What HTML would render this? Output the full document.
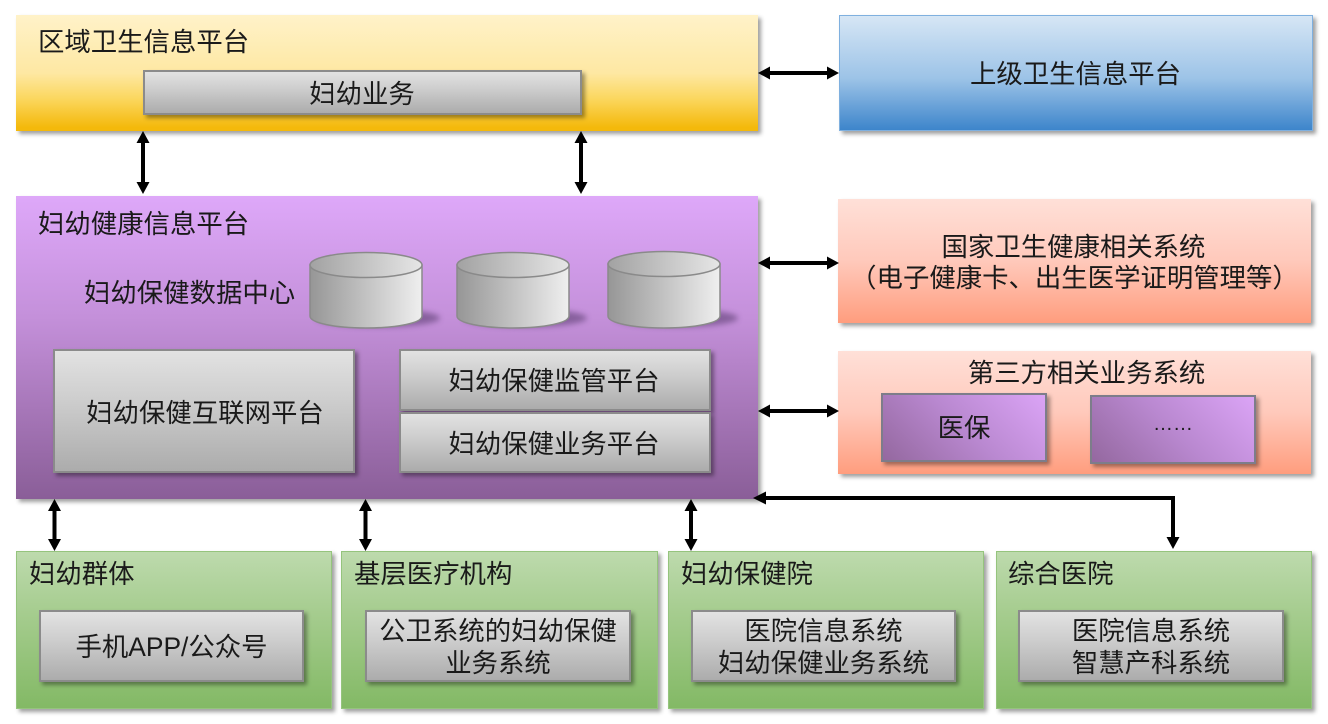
<!DOCTYPE html>
<html lang="zh">
<head>
<meta charset="utf-8">
<style>
html,body{margin:0;padding:0;background:#fff;}
#c{position:relative;width:1328px;height:724px;overflow:hidden;background:#fff;font-family:"Liberation Sans","Noto Sans CJK SC",sans-serif;color:#1a1a1a;}
.b{position:absolute;box-sizing:border-box;box-shadow:3px 3px 4px rgba(0,0,0,.38);}
.t{position:absolute;font-size:26.4px;line-height:32px;white-space:nowrap;}
.cc{text-align:center;}
.y{background:linear-gradient(#fff2c9 0%,#fee8a3 50%,#fbd75f 72%,#f4b90b 97%);}
.bl{background:linear-gradient(#d6e6f5 0%,#9cc3e7 55%,#3d85cb 100%);border:1px solid #7fb0df;}
.p{background:linear-gradient(#dea8f9 0%,#c490da 40%,#8a5e98 100%);}
.r{background:linear-gradient(#ffe0d8 0%,#ffc9bb 50%,#ff9d7e 100%);}
.g{background:linear-gradient(#bddaad 0%,#a5cc8e 40%,#83b965 100%);border:1px solid #95c47d;}
.s{background:linear-gradient(#e2e2e2 0%,#cecece 40%,#acacac 100%);border:2px solid #8b8b8b;}
.pi{background:linear-gradient(45deg,#94689f 0%,#b988d0 50%,#dba4f6 100%);border:2px solid #7d7d8a;}
svg{position:absolute;left:0;top:0;}
</style>
</head>
<body>
<div id="c">
<div class="b y" style="left:16px;top:15px;width:742px;height:116px;"></div>
<div class="b bl" style="left:839px;top:15px;width:474px;height:116px;"></div>
<div class="b p" style="left:16px;top:196px;width:742px;height:303px;"></div>
<div class="b r" style="left:838px;top:199px;width:473px;height:124px;"></div>
<div class="b r" style="left:838px;top:351px;width:473px;height:123px;"></div>
<div class="b g" style="left:16px;top:551px;width:316px;height:158px;"></div>
<div class="b g" style="left:341px;top:551px;width:317px;height:158px;"></div>
<div class="b g" style="left:668px;top:551px;width:316px;height:158px;"></div>
<div class="b g" style="left:996px;top:551px;width:316px;height:158px;"></div>

<div class="b s" style="left:143px;top:70px;width:439px;height:45px;"></div>
<div class="b s" style="left:53px;top:349px;width:302px;height:124px;"></div>
<div class="b s" style="left:399px;top:349px;width:312px;height:62px;"></div>
<div class="b s" style="left:399px;top:412px;width:312px;height:61px;"></div>
<div class="b s" style="left:39px;top:610px;width:265px;height:72px;"></div>
<div class="b s" style="left:365px;top:610px;width:266px;height:72px;"></div>
<div class="b s" style="left:691px;top:610px;width:265px;height:72px;"></div>
<div class="b s" style="left:1018px;top:610px;width:266px;height:72px;"></div>
<div class="b pi" style="left:881px;top:393px;width:166px;height:69px;"></div>
<div class="b pi" style="left:1090px;top:395px;width:166px;height:69px;"></div>

<svg width="1328" height="724" viewBox="0 0 1328 724">
<defs>
<linearGradient id="cg"><stop offset="0" stop-color="#969696"/><stop offset="1" stop-color="#efefef"/></linearGradient>
<linearGradient id="ct"><stop offset="0" stop-color="#a2a2a2"/><stop offset="1" stop-color="#e6e6e6"/></linearGradient>
<filter id="bl" x="-30%" y="-30%" width="160%" height="160%"><feGaussianBlur stdDeviation="3"/></filter>
</defs>
<ellipse cx="378" cy="318" rx="62" ry="9" fill="#5e4074" opacity=".6" filter="url(#bl)"/>
<path d="M310 265V316C310 323 335 328 366 328S422 323 422 316V265Z" fill="url(#cg)" stroke="#8a8a8a" stroke-width="1.5"/>
<ellipse cx="366" cy="265" rx="56" ry="12.500" fill="url(#ct)" stroke="#8a8a8a" stroke-width="1.5"/>
<ellipse cx="525" cy="318" rx="62" ry="9" fill="#5e4074" opacity=".6" filter="url(#bl)"/>
<path d="M457 265V316C457 323 482 328 513 328S569 323 569 316V265Z" fill="url(#cg)" stroke="#8a8a8a" stroke-width="1.5"/>
<ellipse cx="513" cy="265" rx="56" ry="12.500" fill="url(#ct)" stroke="#8a8a8a" stroke-width="1.5"/>
<ellipse cx="676" cy="318" rx="62" ry="9" fill="#5e4074" opacity=".6" filter="url(#bl)"/>
<path d="M608 264V316C608 323 633 328 664 328S720 323 720 316V264Z" fill="url(#cg)" stroke="#8a8a8a" stroke-width="1.5"/>
<ellipse cx="664" cy="264" rx="56" ry="12.500" fill="url(#ct)" stroke="#8a8a8a" stroke-width="1.5"/>

<g fill="#000" stroke="#000">
<g stroke-width="4" fill="none">
<path d="M143 140V186M581 140V186M54.500 507V543M365.500 507V543M691 507V543"/>
<path d="M766 73H830M766 263H830M766 411H830"/>
<path d="M762 498H1173V540"/>
</g>
<g stroke="none">
<path d="M143 131l-6.500 12h13zM143 194l-6.500-12h13zM581 131l-6.500 12h13zM581 194l-6.500-12h13z"/>
<path d="M54.500 499l-6.500 12h13zM54.500 551l-6.500-12h13zM365.500 499l-6.500 12h13zM365.500 551l-6.500-12h13zM691 499l-6.500 12h13zM691 551l-6.500-12h13z"/>
<path d="M758 73l12-6.500v13zM839 73l-12-6.500v13zM758 263l12-6.500v13zM839 263l-12-6.500v13zM758 411l12-6.500v13zM839 411l-12-6.500v13z"/>
<path d="M753 498l13-6.500v13zM1173 549l-6.500-12h13z"/>
</g>
</g>
</svg>

<div class="t" style="left:38px;top:26px;">区域卫生信息平台</div>
<div class="t cc" style="left:143px;top:78px;width:438px;">妇幼业务</div>
<div class="t cc" style="left:839px;top:58px;width:473px;">上级卫生信息平台</div>
<div class="t" style="left:38px;top:208px;">妇幼健康信息平台</div>
<div class="t" style="left:84px;top:277px;">妇幼保健数据中心</div>
<div class="t cc" style="left:55px;top:397px;width:300px;">妇幼保健互联网平台</div>
<div class="t cc" style="left:400px;top:365px;width:308px;">妇幼保健监管平台</div>
<div class="t cc" style="left:400px;top:428px;width:308px;">妇幼保健业务平台</div>
<div class="t cc" style="left:837px;top:231px;width:473px;">国家卫生健康相关系统</div>
<div class="t cc" style="left:838px;top:262px;width:473px;">（电子健康卡、出生医学证明管理等）</div>
<div class="t cc" style="left:850px;top:357px;width:473px;">第三方相关业务系统</div>
<div class="t cc" style="left:882px;top:412px;width:164px;">医保</div>
<div class="t cc" style="left:1091px;top:408px;width:164px;font-size:20px;">……</div>
<div class="t" style="left:29px;top:558px;">妇幼群体</div>
<div class="t" style="left:354px;top:558px;">基层医疗机构</div>
<div class="t" style="left:681px;top:558px;">妇幼保健院</div>
<div class="t" style="left:1008px;top:558px;">综合医院</div>
<div class="t cc" style="left:40px;top:631px;width:263px;">手机APP/公众号</div>
<div class="t cc" style="left:366px;top:615px;width:264px;">公卫系统的妇幼保健</div>
<div class="t cc" style="left:366px;top:647px;width:264px;">业务系统</div>
<div class="t cc" style="left:692px;top:615px;width:263px;">医院信息系统</div>
<div class="t cc" style="left:692px;top:647px;width:263px;">妇幼保健业务系统</div>
<div class="t cc" style="left:1019px;top:615px;width:264px;">医院信息系统</div>
<div class="t cc" style="left:1019px;top:647px;width:264px;">智慧产科系统</div>
</div>
</body>
</html>
